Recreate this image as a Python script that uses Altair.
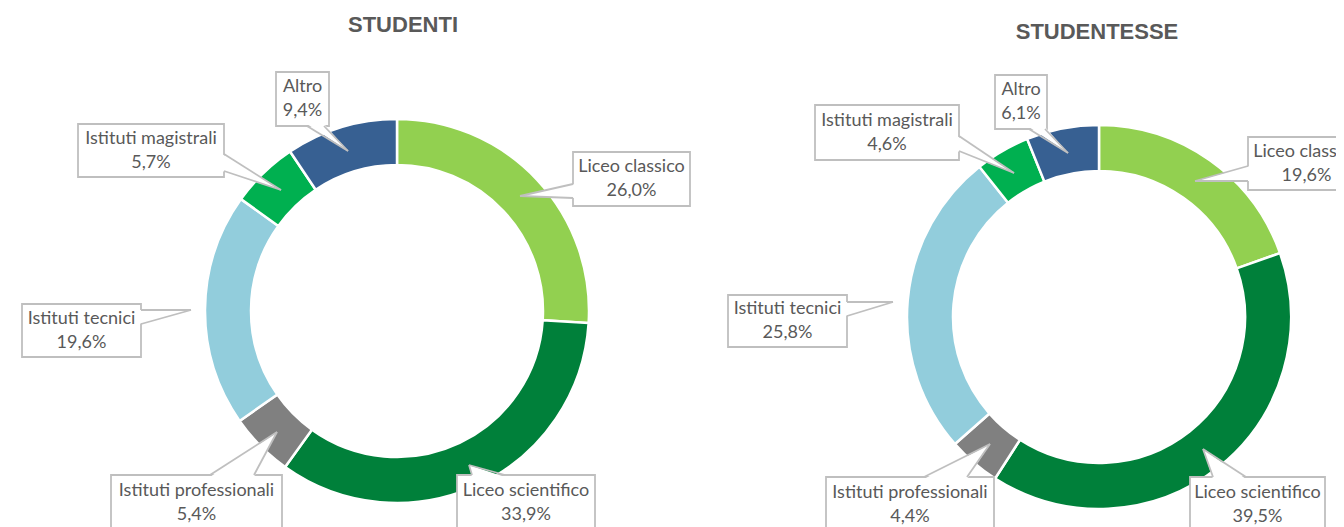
import altair as alt
import pandas as pd

# ---------------- data ----------------
categories = ["Liceo classico", "Liceo scientifico", "Istituti professionali",
              "Istituti tecnici", "Istituti magistrali", "Altro"]
studenti = [26.0, 33.9, 5.4, 19.6, 5.7, 9.4]
studentesse = [19.6, 39.5, 4.4, 25.8, 4.6, 6.1]
panel_titles = ["STUDENTI", "STUDENTESSE"]
colors = ["#92D050", "#00803A", "#808080", "#92CDDC", "#00B050", "#376092"]

# ---------------- layout (page pixels) ----------------
W, H, M = 1344, 527, 8
centers = [(397, 311), (1099, 317)]
title_pos = [(403, 25), (1097, 32)]
R_OUT, R_IN = 192, 146
GRAY = "#BFBFBF"
TXT = "#595959"

# box (x0, x1, y0, y1), side of pointer base, base span, tip
callouts = [
    {
        "Liceo classico": ((573, 690, 152, 206), "left", (184, 198), (520, 196)),
        "Liceo scientifico": ((457, 595, 475, 533), "top", (472, 505), (469, 465)),
        "Istituti professionali": ((111, 282, 475, 533), "top", (210, 254), (277, 432)),
        "Istituti tecnici": ((22, 141, 304, 357), "right", (310, 324), (191, 310)),
        "Istituti magistrali": ((78, 224, 124, 177), "right", (154, 171), (281, 190)),
        "Altro": ((276, 329, 72, 126), "bottom", (307, 324), (348, 151)),
    },
    {
        "Liceo classico": ((1248, 1365, 137, 190), "left", (166, 181), (1195, 181)),
        "Liceo scientifico": ((1190, 1325, 477, 535), "top", (1213, 1246), (1203, 449)),
        "Istituti professionali": ((826, 994, 477, 535), "top", (924, 967), (990, 444)),
        "Istituti tecnici": ((728, 847, 295, 347), "right", (302, 316), (893, 302)),
        "Istituti magistrali": ((815, 959, 105, 160), "right", (136, 151), (1014, 173)),
        "Altro": ((995, 1047, 75, 129), "bottom", (1029, 1045), (1068, 153)),
    },
]

PW, PH = W - 2 * M, H - M
xs = alt.Scale(domain=[M, M + PW], nice=False, zero=False)
ys = alt.Scale(domain=[M, M + PH], nice=False, zero=False, reverse=True)


def fmt(v):
    return f"{v:.1f}".replace(".", ",") + "%"


arc_layers = []
box_rows, vw_rows, hw_rows, rule_rows, text_rows, title_rows = [], [], [], [], [], []
for p, vals in enumerate([studenti, studentesse]):
    df = pd.DataFrame({"category": categories, "value": vals, "idx": range(len(categories))})
    cx, cy = centers[p]
    arc_layers.append(
        alt.Chart(df).mark_arc(outerRadius=R_OUT, innerRadius=R_IN, stroke="white", strokeWidth=2.5)
        .encode(
            theta=alt.Theta("value:Q", stack=True),
            order=alt.Order("idx:Q"),
            color=alt.Color("category:N", scale=alt.Scale(domain=categories, range=colors), legend=None),
            x=alt.value(cx - M),
            y=alt.value(cy - M),
        )
    )
    tx, ty = title_pos[p]
    title_rows.append({"x": tx, "y": ty, "t": panel_titles[p]})
    for cat, v in zip(categories, vals):
        (x0, x1, y0, y1), side, (a, b), (tipx, tipy) = callouts[p][cat]
        wid = f"{p}-{cat}"
        box_rows.append({"x0": x0, "x1": x1, "y0": y0, "y1": y1})
        ymid = (y0 + y1) / 2 if y1 < H else (y0 + 56 / 2)
        xmid = (x0 + x1) / 2
        text_rows.append({"x": xmid, "y": ymid - 12, "t": cat})
        text_rows.append({"x": xmid, "y": ymid + 12, "t": fmt(v)})
        if side in ("left", "right"):
            bx = x0 if side == "left" else x1
            inset = 2 if side == "left" else -2
            vw_rows.append({"wid": wid, "wx": bx + inset, "wy": a, "wy2": b})
            vw_rows.append({"wid": wid, "wx": tipx, "wy": tipy, "wy2": tipy})
            rule_rows.append({"x": bx, "y": a, "x2": tipx, "y2": tipy})
            rule_rows.append({"x": bx, "y": b, "x2": tipx, "y2": tipy})
        else:
            by = y0 if side == "top" else y1
            inset = 2 if side == "top" else -2
            hw_rows.append({"wid": wid, "wy": by + inset, "wx": a, "wx2": b})
            hw_rows.append({"wid": wid, "wy": tipy, "wx": tipx, "wx2": tipx})
            rule_rows.append({"x": a, "y": by, "x2": tipx, "y2": tipy})
            rule_rows.append({"x": b, "y": by, "x2": tipx, "y2": tipy})

boxes = alt.Chart(pd.DataFrame(box_rows)).mark_rect(fill="white", stroke=GRAY, strokeWidth=1.8).encode(
    x=alt.X("x0:Q", scale=xs, axis=None), x2="x1:Q",
    y=alt.Y("y0:Q", scale=ys, axis=None), y2="y1:Q",
)
vwedges = alt.Chart(pd.DataFrame(vw_rows)).mark_area(orient="vertical", fill="white", interpolate="linear").encode(
    x=alt.X("wx:Q", scale=xs, axis=None),
    y=alt.Y("wy:Q", scale=ys, axis=None), y2="wy2:Q",
    detail="wid:N",
)
hwedges = alt.Chart(pd.DataFrame(hw_rows)).mark_area(orient="horizontal", fill="white", interpolate="linear").encode(
    y=alt.Y("wy:Q", scale=ys, axis=None),
    x=alt.X("wx:Q", scale=xs, axis=None), x2="wx2:Q",
    detail="wid:N",
)
rules = alt.Chart(pd.DataFrame(rule_rows)).mark_rule(stroke=GRAY, strokeWidth=1.8).encode(
    x=alt.X("x:Q", scale=xs, axis=None), x2="x2:Q",
    y=alt.Y("y:Q", scale=ys, axis=None), y2="y2:Q",
)
texts = alt.Chart(pd.DataFrame(text_rows)).mark_text(font="Lato", fontSize=18, color=TXT, baseline="middle").encode(
    x=alt.X("x:Q", scale=xs, axis=None),
    y=alt.Y("y:Q", scale=ys, axis=None),
    text="t:N",
)
titles = alt.Chart(pd.DataFrame(title_rows)).mark_text(
    font="Liberation Sans", fontSize=22, fontWeight="bold", color=TXT, baseline="middle"
).encode(
    x=alt.X("x:Q", scale=xs, axis=None),
    y=alt.Y("y:Q", scale=ys, axis=None),
    text="t:N",
)

chart = alt.layer(*arc_layers, boxes, vwedges, hwedges, rules, texts, titles).properties(
    width=PW, height=PH, padding=0, autosize="none"
).resolve_scale(theta="independent").configure_view(stroke=None)

chart.save("out.html", embed_options={"renderer": "svg", "actions": False})
